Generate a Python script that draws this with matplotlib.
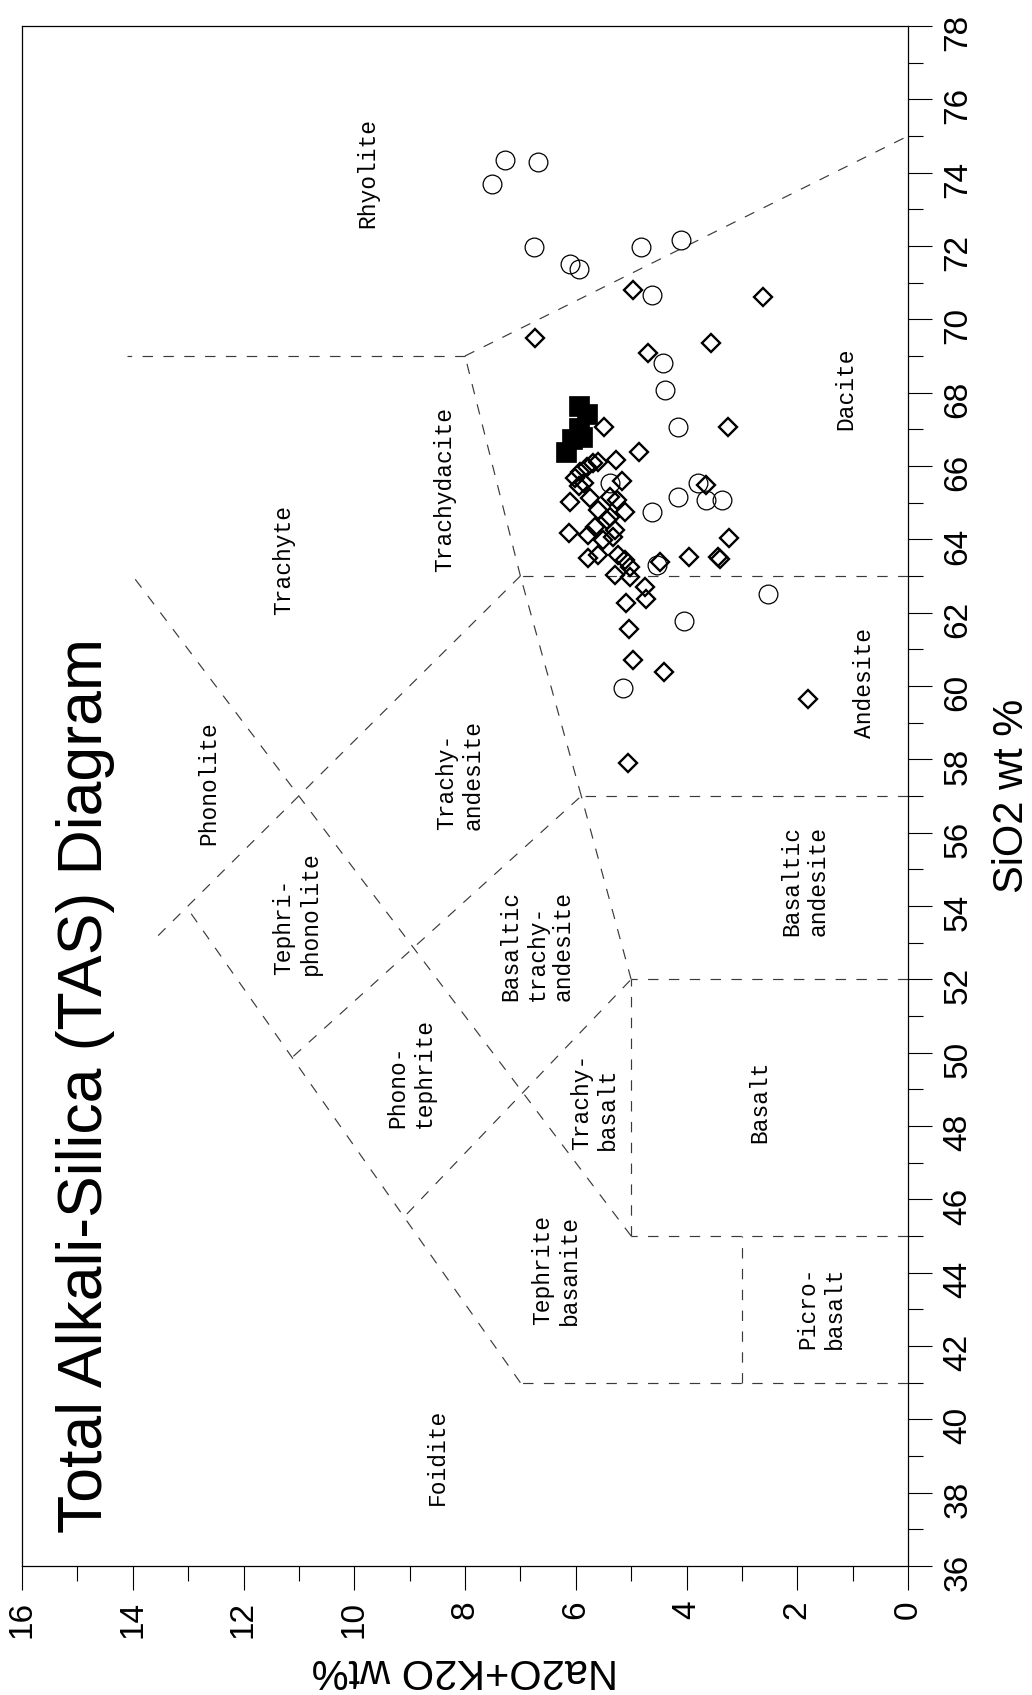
import matplotlib.pyplot as plt
from matplotlib.ticker import MultipleLocator

plt.rcParams['lines.scale_dashes'] = False

# --- Datos (Na2O+K2O wt%, SiO2 wt%) ---
circle_alk = [7.52, 7.27, 6.68, 6.75, 6.10, 5.94, 4.82, 4.10, 4.63, 4.42, 4.38,
              4.16, 5.38, 3.80, 4.16, 3.65, 3.35, 4.63, 4.54, 2.52, 4.05, 5.15]
circle_sio2 = [73.70, 74.35, 74.29, 71.96, 71.50, 71.37, 71.98, 72.16, 70.66, 68.82, 68.07,
               67.07, 65.53, 65.53, 65.16, 65.07, 65.07, 64.75, 63.30, 62.50, 61.77, 59.95]

diamond_alk = [4.97, 2.61, 6.74, 4.69, 3.55, 5.49, 3.25, 4.85, 5.27, 5.92, 5.80,
               5.68, 5.59, 6.01, 5.86, 5.17, 6.10, 5.74, 5.38, 5.26, 5.11, 5.59,
               5.38, 5.44, 5.29, 6.13, 5.77, 5.65, 5.50, 5.32, 5.77, 5.59, 5.23,
               5.11, 4.48, 3.95, 3.43, 3.40, 3.23, 3.64, 5.02, 5.29, 5.02, 4.75,
               4.74, 5.09, 5.03, 4.96, 4.41, 1.80, 5.06, 5.95]
diamond_sio2 = [70.80, 70.62, 69.48, 69.09, 69.35, 67.06, 67.07, 66.39, 66.16, 65.85, 65.98,
                66.07, 66.12, 65.66, 65.53, 65.59, 65.03, 65.12, 65.16, 65.07, 64.75, 64.80,
                64.62, 64.53, 64.25, 64.17, 64.12, 64.35, 63.98, 64.06, 63.48, 63.57, 63.57,
                63.44, 63.39, 63.53, 63.53, 63.46, 64.03, 65.48, 63.25, 63.03, 62.98, 62.69,
                62.36, 62.27, 61.55, 60.71, 60.39, 59.65, 57.91, 65.45]

square_alk = [5.95, 5.80, 5.94, 5.89, 6.07, 6.18]
square_sio2 = [67.64, 67.42, 67.03, 66.78, 66.73, 66.37]

# Limites del diagrama TAS: (SiO2, alcalis)
tas_lines = [
    ([41, 41], [0, 7]),
    ([41, 53.95], [7, 13.02]),
    ([45, 45], [0, 5]),
    ([41, 45], [3, 3]),
    ([45, 52], [5, 5]),
    ([52, 52], [0, 5]),
    ([52, 57], [5, 5.9]),
    ([57, 57], [0, 5.9]),
    ([57, 63], [5.9, 7]),
    ([63, 63], [0, 7]),
    ([63, 69], [7, 8]),
    ([69, 75], [8, 0]),
    ([69, 69], [8, 14.1]),
    ([45, 63], [5, 14]),
    ([63, 53], [7, 13.67]),
    ([45.6, 52], [9.05, 5]),
    ([49.9, 57], [11.1, 5.9]),
]

rock_names = ['Rhyolite', 'Trachydacite', 'Trachyte', 'Dacite', 'Andesite', 'Phonolite',
              'Trachy-\nandesite', 'Tephri-\nphonolite', 'Basaltic\ntrachy-\nandesite',
              'Basaltic\nandesite', 'Phono-\ntephrite', 'Trachy-\nbasalt', 'Basalt',
              'Tephrite\nbasanite', 'Picro-\nbasalt', 'Foidite']
rock_alk = [9.76, 8.36, 11.28, 1.12, 0.79, 12.63, 8.10, 11.03, 6.70, 1.86, 8.98,
            5.66, 2.68, 6.35, 1.57, 8.50]
rock_sio2 = [74.0, 65.36, 63.44, 68.1, 60.08, 57.34, 57.58, 53.81, 52.92, 54.69, 49.45,
             48.65, 48.65, 44.08, 43.05, 38.98]

# --- Figura ---
W, H = 1032, 1695
fig = plt.figure(figsize=(W / 100, H / 100), dpi=100)
ax = fig.add_axes([22 / W, 1 - 1566 / H, 886 / W, 1540 / H])

for sio2, alk in tas_lines:
    ax.plot(alk, sio2, color='#3a3a3a', lw=0.85, linestyle=(0, (7.5, 7.5)), zorder=1)

ax.plot(circle_alk, circle_sio2, 'o', ms=13.5, mfc='none', mec='black', mew=0.9, zorder=3)
ax.plot(diamond_alk, diamond_sio2, 'D', ms=9.3, mfc='none', mec='black', mew=1.7, zorder=4)
ax.plot(square_alk, square_sio2, 's', ms=14.4, mfc='black', mec='black', mew=0.5, zorder=5)

for name, a, s in zip(rock_names, rock_alk, rock_sio2):
    ax.text(a, s, name, rotation=90, ha='center', va='center', multialignment='left',
            family='Liberation Mono', fontsize=16.5, linespacing=1.2)

ax.text(14.85, 49.1, 'Total Alkali-Silica (TAS) Diagram', rotation=90, ha='center',
        va='center', family='Liberation Sans', fontsize=45)

ax.set_xlim(16, 0)
ax.set_ylim(36, 78)
ax.xaxis.set_major_locator(MultipleLocator(2))
ax.xaxis.set_minor_locator(MultipleLocator(1))
ax.yaxis.set_major_locator(MultipleLocator(2))
ax.yaxis.set_minor_locator(MultipleLocator(1))
ax.yaxis.tick_right()
ax.yaxis.set_label_position('right')
ax.tick_params(which='major', direction='out', length=17, width=0.8, labelsize=24, pad=8)
ax.tick_params(which='minor', direction='out', length=11, width=0.8)
ax.tick_params(axis='both', labelrotation=90)
for lab in ax.get_xticklabels() + ax.get_yticklabels():
    lab.set_family('Liberation Sans')
for sp in ax.spines.values():
    sp.set_linewidth(0.9)

ax.set_xlabel('Na2O+K2O wt%', rotation=180, family='Liberation Sans', fontsize=30)
ax.xaxis.set_label_coords(0.5, -(1670 - 1566) / 1540)
ax.xaxis.label.set_va('center')
ax.set_ylabel('SiO2 wt %', rotation=90, family='Liberation Sans', fontsize=30)
ax.yaxis.set_label_coords((1012 - 22) / 886, 0.5)
ax.yaxis.label.set_va('center')
ax.yaxis.label.set_ha('center')

fig.savefig('out.png', dpi=100, facecolor='white')
